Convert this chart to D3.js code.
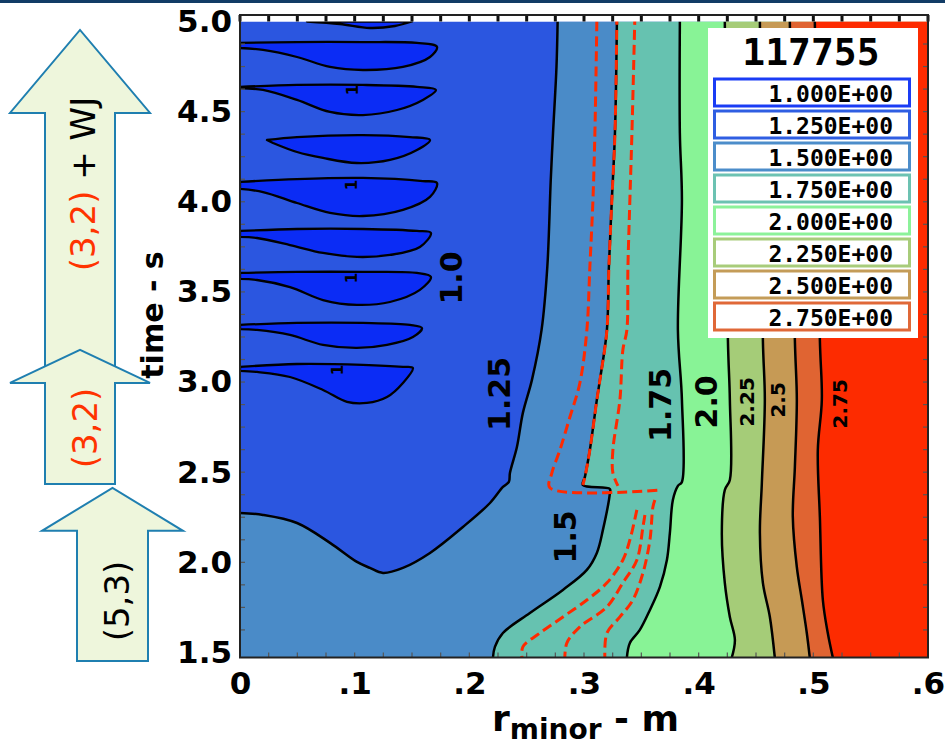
<!doctype html>
<html>
<head>
<meta charset="utf-8">
<script src="https://cdn.jsdelivr.net/npm/d3@7"></script>
<style>
  body { margin: 0; background: #fff; }
  svg { display: block; font-family: "DejaVu Sans", sans-serif; }
</style>
</head>
<body>
<svg id="chart" width="945" height="747"></svg>
<script>
// q contour levels (legend order) and shot number
const levels = [1.0, 1.25, 1.5, 1.75, 2.0, 2.25, 2.5, 2.75];
const shot = "117755";
const xTicks = [0, .1, .2, .3, .4, .5, .6];
const yTicks = [1.5, 2.0, 2.5, 3.0, 3.5, 4.0, 4.5, 5.0];

// contour lines as [r_minor (m), time (s)], top to bottom
const q125 = [[0.277,5.0],[0.276,4.748],[0.273,4.382],[0.271,4.121],[0.268,3.638],[0.263,3.289],[0.2546,3.012],
  [0.2467,2.829],[0.2415,2.640],[0.2354,2.496],[0.2345,2.446],[0.2293,2.418],[0.218,2.329],[0.1944,2.196],
  [0.1657,2.052],[0.1421,1.969],[0.1247,1.941],[0.1133,1.969],[0.102,2.002],[0.0785,2.108],[0.0497,2.218],
  [0.0201,2.263],[0,2.274]];
const q150 = [[0.3287,5.0],[0.327,4.382],[0.3243,4.010],[0.3217,3.638],[0.320,3.289],[0.3139,3.012],[0.3112,2.901],
  [0.3051,2.623],[0.3008,2.474],[0.299,2.429],[0.3226,2.407],[0.3226,2.385],[0.3165,2.180],[0.3112,2.052],
  [0.3025,1.958],[0.2816,1.847],[0.2528,1.719],[0.2293,1.608],[0.2223,1.531],[0.2206,1.472]];
const q175 = [[0.3836,5.0],[0.3836,4.382],[0.3854,4.010],[0.3819,3.289],[0.3854,2.901],[0.3854,2.446],[0.3819,2.424],
  [0.3775,2.346],[0.3749,2.163],[0.3723,2.013],[0.3662,1.864],[0.3575,1.736],[0.3487,1.625],[0.340,1.553],[0.3374,1.472]];
const q200 = [[0.4228,5.0],[0.4255,3.233],[0.4272,2.901],[0.4272,2.457],[0.4228,2.401],[0.4202,2.163],[0.4228,1.886],
  [0.4272,1.697],[0.4316,1.569],[0.4289,1.472]];
const q225 = [[0.4534,5.0],[0.456,3.233],[0.4577,2.901],[0.4551,2.440],[0.4534,2.163],[0.456,1.886],[0.4621,1.697],[0.4664,1.472]];
const q250 = [[0.4795,5.0],[0.4839,3.233],[0.4856,2.901],[0.4839,2.529],[0.4821,2.252],[0.4856,1.974],[0.49,1.791],
  [0.4943,1.608],[0.4969,1.472]];
const q275 = [[0.5013,5.0],[0.5057,3.233],[0.5074,2.901],[0.5039,2.623],[0.5057,2.252],[0.5083,1.791],[0.5126,1.608],[0.517,1.472]];
const contours = [q125, q150, q175, q200, q225, q250, q275];

// q < 1 islands near the axis (sawtooth crashes)
const islands = [
  [[0.0584,5.0],[0.0872,4.986],[0.1133,4.964],[0.1351,4.975],[0.150,5.0]],
  [[0,4.881],[0.0497,4.886],[0.1072,4.886],[0.1543,4.881],[0.1718,4.859],[0.1657,4.803],[0.1421,4.748],[0.1072,4.731],[0.0785,4.748],[0.0497,4.803],[0.0201,4.842],[0,4.853]],
  [[0,4.637],[0.0497,4.648],[0.1072,4.648],[0.1543,4.637],[0.1709,4.620],[0.1595,4.565],[0.1369,4.509],[0.1072,4.481],[0.0785,4.498],[0.0497,4.565],[0.0201,4.620],[0,4.631]],
  [[0.0235,4.343],[0.0497,4.359],[0.1072,4.370],[0.1482,4.359],[0.1657,4.343],[0.1543,4.287],[0.1308,4.232],[0.102,4.215],[0.0724,4.243],[0.0497,4.276],[0.0288,4.326]],
  [[0,4.110],[0.0497,4.126],[0.1072,4.132],[0.1595,4.115],[0.1718,4.104],[0.1657,4.027],[0.1421,3.955],[0.1072,3.921],[0.0785,3.938],[0.0497,3.993],[0.0201,4.054],[0,4.071]],
  [[0,3.838],[0.0497,3.849],[0.1072,3.849],[0.1543,3.838],[0.1665,3.827],[0.1569,3.749],[0.1308,3.705],[0.102,3.694],[0.0724,3.716],[0.0436,3.760],[0.0148,3.799],[0,3.805]],
  [[0,3.605],[0.0497,3.611],[0.1072,3.611],[0.1543,3.605],[0.1665,3.583],[0.1569,3.511],[0.1308,3.444],[0.102,3.428],[0.0724,3.455],[0.0436,3.527],[0.0148,3.566],[0,3.572]],
  [[0,3.317],[0.0497,3.328],[0.1072,3.328],[0.1482,3.317],[0.1587,3.300],[0.1508,3.250],[0.1282,3.206],[0.102,3.189],[0.0724,3.206],[0.0436,3.261],[0.0148,3.289],[0,3.294]],
  [[0,3.084],[0.0497,3.100],[0.1072,3.095],[0.1421,3.084],[0.1508,3.078],[0.1421,2.995],[0.1282,2.917],[0.1107,2.884],[0.0933,2.890],[0.0724,2.956],[0.0436,3.028],[0.0148,3.056],[0,3.062]]
];
const islandLabelAt = [[0.0985,4.620],[0.0976,4.093],[0.0976,3.577],[0.0854,3.067]];

// red dashed traces (rational surface positions)
const redTraces = [
  [[0.3112,5.0],[0.3095,4.382],[0.3078,4.010],[0.3051,3.638],[0.3025,3.289],[0.2964,2.995],[0.2877,2.806],[0.279,2.623],[0.272,2.496],[0.2703,2.413],[0.3662,2.401]],
  [[0.3287,5.036],[0.327,4.382],[0.3243,4.010],[0.3217,3.638],[0.320,3.289],[0.3139,3.012],[0.3112,2.901],[0.3051,2.623],[0.3008,2.474],[0.299,2.429]],
  [[0.3444,5.036],[0.3418,4.382],[0.34,4.010],[0.3383,3.638],[0.3374,3.289],[0.3339,3.178],[0.3313,2.901],[0.3252,2.623],[0.3252,2.496],[0.3296,2.424]],
  [[0.3461,2.291],[0.34,2.124],[0.3339,2.013],[0.32,1.886],[0.3025,1.791],[0.2816,1.697],[0.2616,1.608],[0.2467,1.531],[0.2459,1.472]],
  [[0.3531,2.263],[0.3514,2.196],[0.3461,2.013],[0.3339,1.886],[0.32,1.753],[0.2964,1.642],[0.2851,1.553],[0.2833,1.472]],
  [[0.3618,2.346],[0.3601,2.307],[0.3575,2.124],[0.3514,1.941],[0.3426,1.791],[0.3313,1.697],[0.32,1.608],[0.3182,1.472]]
];

// contour labels
const labelText = ["1.0", "1.25", "1.5", "1.75", "2.0", "2.25", "2.5", "2.75"];
const labelAt = [[0.1848,3.577],[0.2267,2.934],[0.2842,2.141],[0.367,2.873],[0.4071,2.890],[0.442,2.890],[0.469,2.901],[0.5231,2.879]];

// MHD mode periods (s): label pieces, start, end
const modeText = [[["(3,2)", "#ff3300"], [" + WJ", "#000"]], [["(3,2)", "#ff3300"]], [["(5,3)", "#000"]]];
const modeStart = [2.995, 2.435, 1.453];
const modeEnd = [4.953, 3.178, 2.413];

// ---- styles / layout ----
const bandColors = ["#0b2cf5", "#2b56e0", "#4a8bc8", "#66c2b0", "#88f396", "#a5cc78", "#c69a55", "#e06432", "#fd2b00"];
const legendColors = ["#1a3cf5", "#2f5ee2", "#4c8dca", "#6cc2b2", "#8cf29a", "#a8cc7a", "#c49c58", "#e06838"];
const arrowGeo = [{cx: 80, sw: 35, hw: 70, head: 83}, {cx: 80, sw: 35, hw: 70, head: 33}, {cx: 112.5, sw: 35.5, hw: 70.5, head: 43}];
const arrowTextPos = [[83, 184], [85, 428], [117, 601]];

const svg = d3.select('#chart');
const tTop = 5.0, tMin = 1.472, rMax = 0.6;
const x = d3.scaleLinear().domain([0, rMax]).range([240, 928]);
const y = d3.scaleLinear().domain([tMin, 5.036]).range([657.5, 15]);

// slide header line
svg.append('rect').attr('x', 0).attr('y', 0).attr('width', 945).attr('height', 3).attr('fill', '#123c66');

// mode arrows on the left
const arrowG = svg.append('g');
modeText.forEach((parts, i) => {
  const g = arrowGeo[i];
  const yb = y(modeStart[i]), yt = y(modeEnd[i]), yh = yt + g.head;
  const pts = [[g.cx - g.sw, yb], [g.cx - g.sw, yh], [g.cx - g.hw, yh], [g.cx, yt], [g.cx + g.hw, yh], [g.cx + g.sw, yh], [g.cx + g.sw, yb]];
  arrowG.append('path').attr('d', d3.line()(pts) + 'Z')
    .attr('fill', '#eef6dc').attr('stroke', '#1f7fb0').attr('stroke-width', 2);
  const t = arrowG.append('text')
    .attr('transform', `translate(${arrowTextPos[i][0]},${arrowTextPos[i][1]}) rotate(-90)`)
    .attr('text-anchor', 'middle').attr('dominant-baseline', 'central').attr('font-size', 34);
  parts.forEach(p => t.append('tspan').attr('fill', p[1]).text(p[0]));
});

svg.append('clipPath').attr('id', 'plotclip')
  .append('rect').attr('x', x(0)).attr('y', y(5.036)).attr('width', x(rMax) - x(0)).attr('height', y(tMin) - y(5.036));

const plotG = svg.append('g').attr('clip-path', 'url(#plotclip)');
const smooth = d3.line().x(d => x(d[0])).y(d => y(d[1])).curve(d3.curveCatmullRom.alpha(0.5));

// base band (1.0 - 1.25)
plotG.append('rect').attr('x', x(0)).attr('y', y(tTop)).attr('width', x(rMax) - x(0)).attr('height', y(tMin) - y(tTop))
  .attr('fill', bandColors[1]);

// each region q > level painted over the previous one
contours.forEach((c, i) => {
  const last = c[c.length - 1];
  const d = smooth(c) + `L${x(last[0])},${y(tMin)}L${x(rMax)},${y(tMin)}L${x(rMax)},${y(tTop)}Z`;
  plotG.append('path').attr('d', d).attr('fill', bandColors[i + 2]);
});

islands.forEach(p => {
  plotG.append('path').attr('d', smooth(p) + 'Z')
    .attr('fill', bandColors[0]).attr('stroke', '#000').attr('stroke-width', 2.3).attr('stroke-linejoin', 'round');
});

contours.forEach(c => {
  plotG.append('path').attr('d', smooth(c)).attr('fill', 'none')
    .attr('stroke', '#000').attr('stroke-width', 2.5).attr('stroke-linejoin', 'round');
});

redTraces.forEach(p => {
  plotG.append('path').attr('d', smooth(p)).attr('fill', 'none')
    .attr('stroke', '#ff2a00').attr('stroke-width', 3).attr('stroke-dasharray', '10,5');
});

// white strip above the last time slice
svg.append('rect').attr('x', x(0)).attr('y', y(5.036)).attr('width', x(rMax) - x(0)).attr('height', y(tTop) - y(5.036))
  .attr('fill', '#fff');

islandLabelAt.forEach(p => {
  svg.append('text').attr('transform', `translate(${x(p[0])},${y(p[1])}) rotate(-90)`)
    .attr('text-anchor', 'middle').attr('dominant-baseline', 'central')
    .attr('font-size', 15).attr('font-weight', 'bold').text('1');
});

labelText.forEach((t, i) => {
  const small = i >= 5;
  svg.append('text').attr('transform', `translate(${x(labelAt[i][0])},${y(labelAt[i][1])}) rotate(-90)`)
    .attr('text-anchor', 'middle').attr('dominant-baseline', 'central')
    .attr('font-size', small ? 20 : 30).attr('font-weight', 'bold').text(t);
});

// minor ticks
const tickG = svg.append('g').attr('stroke', '#111');
d3.range(0, rMax + 1e-6, 0.025).forEach(r => {
  tickG.append('line').attr('x1', x(r)).attr('x2', x(r)).attr('y1', y(5.036)).attr('y2', y(tTop)).attr('stroke-width', 3);
  tickG.append('line').attr('x1', x(r)).attr('x2', x(r)).attr('y1', y(tMin)).attr('y2', y(tMin) - 5).attr('stroke-width', 1.2).attr('stroke', '#555');
});
d3.range(1.625, 5.0, 0.125).forEach(t => {
  tickG.append('line').attr('x1', x(rMax)).attr('x2', x(rMax) - 5).attr('y1', y(t)).attr('y2', y(t)).attr('stroke-width', 1.2).attr('stroke', '#555');
  tickG.append('line').attr('x1', x(0)).attr('x2', x(0) + 5).attr('y1', y(t)).attr('y2', y(t)).attr('stroke-width', 1.2).attr('stroke', '#555');
});

// frame
svg.append('rect').attr('x', x(0)).attr('y', y(5.036)).attr('width', x(rMax) - x(0)).attr('height', y(tMin) - y(5.036))
  .attr('fill', 'none').attr('stroke', '#222').attr('stroke-width', 2);

// axes
const fmtX = d => d === 0 ? "0" : d3.format(".1f")(d).replace(/^0/, "");
const xAxis = svg.append('g').attr('transform', `translate(0,${y(tMin)})`)
  .call(d3.axisBottom(x).tickValues(xTicks).tickSize(0).tickPadding(14).tickFormat(fmtX));
const yAxis = svg.append('g').attr('transform', `translate(${x(0)},0)`)
  .call(d3.axisLeft(y).tickValues(yTicks).tickSize(0).tickPadding(8).tickFormat(d3.format(".1f")));
[xAxis, yAxis].forEach(a => {
  a.select('.domain').remove();
  a.selectAll('text').attr('font-family', '"DejaVu Sans", sans-serif').attr('font-size', 31)
    .attr('font-weight', 'bold').attr('fill', '#000');
});

const xt = svg.append('text').attr('x', 492).attr('y', 731).attr('font-weight', 'bold').attr('font-size', 36);
xt.append('tspan').text('r');
xt.append('tspan').attr('font-size', 28).attr('dy', 8).text('minor');
xt.append('tspan').attr('dy', -8).text(' - m');

// axis title sits over the arrows
svg.append('text').attr('transform', 'translate(163,315) rotate(-90)').attr('text-anchor', 'middle')
  .attr('font-size', 30).attr('font-weight', 'bold').text('time - s');

// legend
const lg = svg.append('g');
lg.append('rect').attr('x', 708).attr('y', 28).attr('width', 210).attr('height', 310).attr('fill', '#fff');
lg.append('text').attr('x', 811).attr('y', 65).attr('text-anchor', 'middle')
  .attr('font-family', '"DejaVu Sans Mono", monospace').attr('font-weight', 'bold').attr('font-size', 38).text(shot);
levels.forEach((L, i) => {
  const top = 79 + 32 * i;
  lg.append('rect').attr('x', 714.5).attr('y', top).attr('width', 195).attr('height', 27)
    .attr('fill', '#fff').attr('stroke', legendColors[i]).attr('stroke-width', 3);
  lg.append('text').attr('x', 893).attr('y', top + 23).attr('text-anchor', 'end')
    .attr('font-family', '"DejaVu Sans Mono", monospace').attr('font-weight', 'bold').attr('font-size', 23)
    .text(L.toFixed(3) + 'E+00');
});
</script>
</body>
</html>
